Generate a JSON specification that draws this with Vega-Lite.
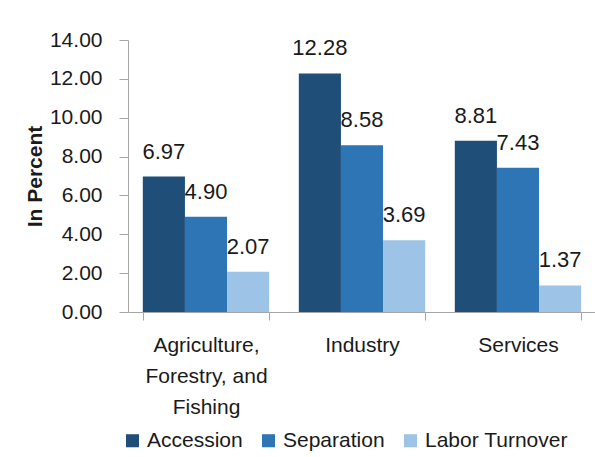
{
  "$schema": "https://vega.github.io/schema/vega-lite/v6.json",
  "width": 468,
  "height": 272,
  "padding": {"top": 29, "left": 24, "right": 0, "bottom": 5},
  "background": "white",
  "data": {
    "values": [
      {"sector": "Agriculture, Forestry, and Fishing", "measure": "Accession", "value": 6.97},
      {"sector": "Agriculture, Forestry, and Fishing", "measure": "Separation", "value": 4.90},
      {"sector": "Agriculture, Forestry, and Fishing", "measure": "Labor Turnover", "value": 2.07},
      {"sector": "Industry", "measure": "Accession", "value": 12.28},
      {"sector": "Industry", "measure": "Separation", "value": 8.58},
      {"sector": "Industry", "measure": "Labor Turnover", "value": 3.69},
      {"sector": "Services", "measure": "Accession", "value": 8.81},
      {"sector": "Services", "measure": "Separation", "value": 7.43},
      {"sector": "Services", "measure": "Labor Turnover", "value": 1.37}
    ]
  },
  "encoding": {
    "x": {
      "field": "sector", "type": "nominal", "sort": null,
      "scale": {"paddingInner": 0.19, "paddingOuter": 0.095},
      "axis": {
        "title": null, "labelAngle": 0, "tickBand": "extent",
        "labelExpr": "datum.label == 'Agriculture, Forestry, and Fishing' ? ['Agriculture,', 'Forestry, and', 'Fishing'] : datum.label",
        "labelFont": "Liberation Sans", "labelFontSize": 21, "labelColor": "#1a1a1a",
        "labelLineHeight": 31, "labelPadding": 14, "tickSize": 8,
        "domainColor": "#a6a6a6", "tickColor": "#a6a6a6"
      }
    },
    "xOffset": {"field": "measure", "type": "nominal", "sort": ["Accession", "Separation", "Labor Turnover"]},
    "y": {
      "field": "value", "type": "quantitative",
      "scale": {"domain": [0, 14]},
      "axis": {
        "title": "In Percent", "titleFont": "Liberation Sans", "titleFontSize": 21, "titleFontWeight": "bold",
        "titleColor": "#1a1a1a", "titlePadding": 4,
        "values": [0, 2, 4, 6, 8, 10, 12, 14], "format": ".2f", "grid": false,
        "labelFont": "Liberation Sans", "labelFontSize": 21, "labelColor": "#1a1a1a",
        "labelPadding": 17, "tickSize": 9,
        "domainColor": "#a6a6a6", "tickColor": "#a6a6a6"
      }
    }
  },
  "layer": [
    {
      "mark": {"type": "bar"},
      "encoding": {
        "color": {
          "field": "measure", "type": "nominal", "sort": ["Accession", "Separation", "Labor Turnover"],
          "scale": {"domain": ["Accession", "Separation", "Labor Turnover"], "range": ["#1f4e79", "#2e75b6", "#9dc3e6"]},
          "legend": {
            "title": null, "orient": "none", "legendX": -6, "legendY": 390, "direction": "horizontal",
            "symbolType": "square", "symbolSize": 170, "symbolStrokeWidth": 0,
            "labelFont": "Liberation Sans", "labelFontSize": 21, "labelColor": "#1a1a1a",
            "labelOffset": 4, "columnPadding": 15
          }
        }
      }
    },
    {
      "mark": {"type": "text", "baseline": "alphabetic", "dy": -18, "font": "Liberation Sans", "fontSize": 22, "color": "#1a1a1a"},
      "encoding": {
        "text": {"field": "value", "type": "quantitative", "format": ".2f"}
      }
    }
  ],
  "config": {"view": {"stroke": null}}
}
